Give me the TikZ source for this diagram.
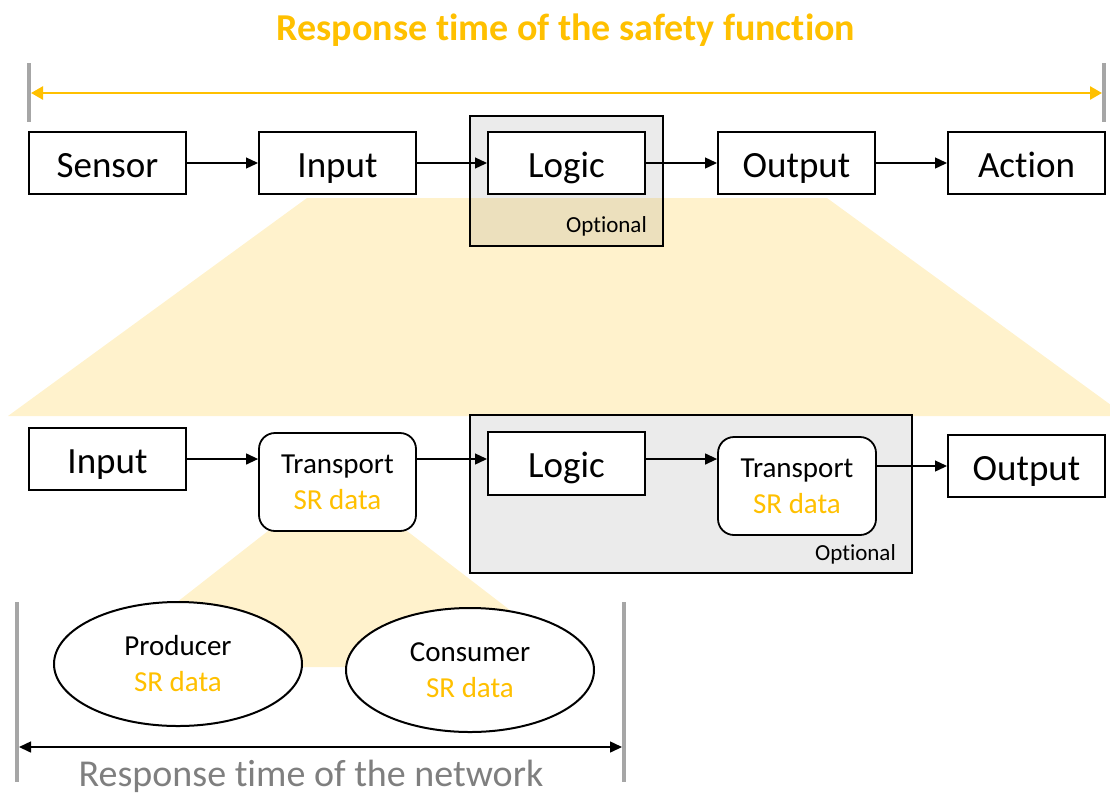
\documentclass[tikz,border=0pt]{standalone}
\usepackage{fontspec}
\setmainfont[RawFeature={-liga;-clig;-calt;-dlig}]{Carlito}
\usetikzlibrary{arrows.meta,shapes.geometric,calc}
\definecolor{gold}{HTML}{FFC000}
\definecolor{beige}{HTML}{FFF2CC}
\definecolor{optgray}{HTML}{EBEBEB}
\definecolor{overlap}{HTML}{ECE0BD}
\definecolor{barg}{HTML}{A6A6A6}
\definecolor{txtgray}{HTML}{7F7F7F}
\tikzset{
  box/.style={draw=black,line width=2pt,fill=white,minimum width=157pt,minimum height=62pt,inner sep=0pt,text height=28pt,text depth=0pt,font=\fontsize{37}{44}\selectfont},
  tbox/.style={draw=black,line width=1.8pt,rounded corners=16pt,fill=white,minimum width=157pt,minimum height=98pt,inner sep=0pt,align=center,font=\fontsize{29}{36}\selectfont},
  ell/.style={ellipse,draw=black,line width=2pt,fill=white,minimum width=248pt,minimum height=124pt,inner sep=0pt,align=center,font=\fontsize{29}{36}\selectfont},
  conn/.style={line width=1.3pt,-{Triangle[length=12pt,width=11pt]}},
  optframe/.style={draw=black,line width=2pt},
  bar/.style={draw=barg,line width=4pt},
  small/.style={font=\fontsize{23}{28}\selectfont,inner sep=0pt},
  sr/.style={text=gold}
}
\begin{document}
\begin{tikzpicture}[x=1pt,y=-1pt]
\useasboundingbox (0,0) rectangle (1110,796);
% zoom trapezoids
\begin{scope}
  \clip (0,0) rectangle (1110,796);
  \fill[beige] (307,198) -- (827,198) -- (1126,416) -- (8,416) -- cycle;
\end{scope}
\fill[beige] (268,531) -- (407,531) -- (584,667) -- (94,667) -- cycle;
% optional frame (top)
\fill[optgray] (470,116) rectangle (663,246);
\begin{scope}
  \clip (307,198) -- (827,198) -- (1126,416) -- (8,416) -- cycle;
  \fill[overlap] (470,116) rectangle (663,246);
\end{scope}
\draw[optframe] (470,116) rectangle (663,246);
\node[small,anchor=base east] (opt1) at (647,232) {Optional};
% optional frame (bottom)
\draw[optframe,fill=optgray] (470,415) rectangle (912,573);
\node[small,anchor=base east] (opt2) at (896,560) {Optional};
% title
\node[anchor=base,text=gold,font=\bfseries\fontsize{38}{46}\selectfont,inner sep=0pt] (title) at (566,40) {Response time of the safety function};
% top bars & arrow
\coordinate (tl1) at (29,63); \coordinate (tl2) at (29,122);
\coordinate (tr1c) at (1104,63); \coordinate (tr2c) at (1104,122);
\draw[bar] (tl1) -- (tl2);
\draw[bar] (tr1c) -- (tr2c);
\coordinate (ta) at (31,93); \coordinate (tb) at (1102,93);
\draw[draw=gold,line width=2.5pt,{Triangle[length=12pt,width=13pt]}-{Triangle[length=12pt,width=13pt]}] (ta) -- (tb);
% top row
\node[box] (sensor) at (107.5,163) {Sensor};
\node[box] (input) at (337.5,163) {Input};
\node[box] (logic) at (566.5,163) {Logic};
\node[box] (output) at (796.5,163) {Output};
\node[box] (action) at (1026.5,163) {Action};
\draw[conn] (sensor) -- (input);
\draw[conn] (input) -- (logic);
\draw[conn] (logic) -- (output);
\draw[conn] (output) -- (action);
% lower row
\node[box] (in2) at (107.5,459) {Input};
\node[tbox] (trA) at (337.5,482) {Transport\\\textcolor{gold}{SR data}};
\node[box,minimum height=63pt] (lg2) at (566.5,463.5) {Logic};
\node[tbox,minimum width=158pt] (trB) at (797,486) {Transport\\\textcolor{gold}{SR data}};
\node[box] (out2) at (1026.5,466) {Output};
\draw[conn] (in2.east) -- (in2.east -| trA.west);
\draw[conn] (trA.east |- in2.east) -- (lg2.west |- in2.east);
\draw[conn] (lg2.east |- in2.east) -- (trB.west |- in2.east);
\draw[conn] (trB.east |- out2.west) -- (out2.west);
% ellipses
\node[ell] (prod) at (178,664) {Producer\\\textcolor{gold}{SR data}};
\node[ell] (cons) at (470,670) {Consumer\\\textcolor{gold}{SR data}};
% bottom bars & arrow
\coordinate (bl1) at (17,602); \coordinate (bl2) at (17,782);
\coordinate (br1) at (624,602); \coordinate (br2) at (624,782);
\draw[bar] (bl1) -- (bl2);
\draw[bar] (br1) -- (br2);
\coordinate (ba) at (19,747); \coordinate (bb) at (622,747);
\draw[line width=1.5pt,{Triangle[length=12pt,width=11pt]}-{Triangle[length=12pt,width=11pt]}] (ba) -- (bb);
\node[anchor=base,text=txtgray,font=\fontsize{38}{46}\selectfont,inner sep=0pt] (net) at (311,786) {Response time of the network};
\end{tikzpicture}
\end{document}
